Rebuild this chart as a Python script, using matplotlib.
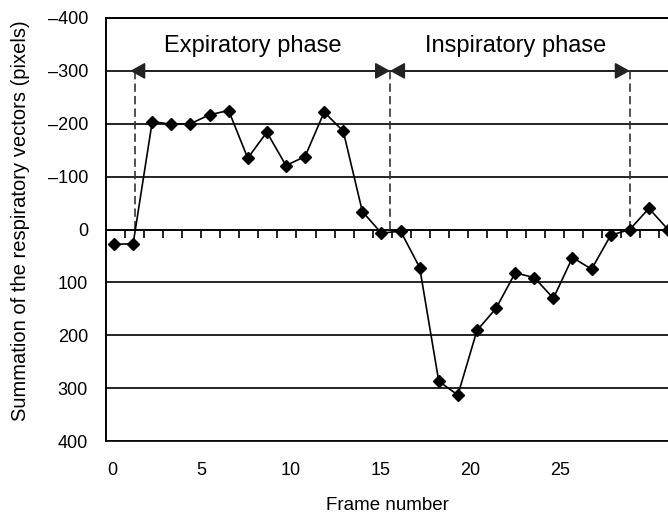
import numpy as np
import matplotlib
matplotlib.use('Agg')
import matplotlib.pyplot as plt

plt.rcParams['font.family'] = ['Liberation Sans', 'DejaVu Sans']

# Summation of respiratory vectors per frame (pixels)
frames = list(range(30))
values = [28, 27, -204, -199, -200, -217, -225, -135, -184, -121,
          -138, -222, -186, -34, 7, 3, 72, 287, 313, 191,
          149, 82, 91, 130, 53, 75, 11, 0, -40, 0]

# Phase boundaries (frame units) and labels
phase_bounds = [1.1, 14.45, 27.0]
arrow_spans = [(0.85, 14.45), (14.45, 27.0)]
phase_labels = ['Expiratory phase', 'Inspiratory phase']
phase_label_x = [7.25, 21.0]

yticks = list(range(-400, 401, 100))
ytick_labels = [str(v).replace('-', '\u2013') for v in yticks]
xlabels = [0, 5, 10, 15, 20, 25]

fig = plt.figure(figsize=(6.68, 5.16), dpi=100)
ax = fig.add_axes([106 / 668, 1 - 441 / 516, 562 / 668, 423 / 516])

# horizontal grid
ax.set_ylim(400, -400)
ax.set_yticks(yticks)
ax.set_yticklabels(ytick_labels)
ax.yaxis.grid(True, color='black', lw=1.2)
ax.set_axisbelow(True)
ax.tick_params(axis='y', length=0, pad=13, labelsize=13)

# category ticks hanging below the zero line
ax.set_xlim(-0.42, 29.0)
ax.set_xticks(np.arange(0.55, 29, 1))
ax.set_xticklabels([])
ax.tick_params(axis='x', direction='out', length=6, width=1.2)
ax.spines['bottom'].set_position(('data', 0))
ax.spines['bottom'].set_linewidth(1.2)
ax.spines['right'].set_visible(False)
ax.spines['top'].set_linewidth(1.2)
ax.spines['left'].set_linewidth(1.2)

ax.plot(frames, values, color='black', lw=1.2, marker='D', ms=6.5, zorder=5)

# phase markers
ax.vlines(phase_bounds, -300, 0, colors='#333333', lw=1.2,
          linestyles=(0, (5, 2.5)), zorder=3)
for a, b in arrow_spans:
    ax.annotate('', xy=(b, -300), xytext=(a, -300),
                arrowprops=dict(arrowstyle='<|-|>,head_length=9,head_width=5',
                                mutation_scale=1, color='#222222', lw=1.2,
                                shrinkA=0, shrinkB=0))
for lx, txt in zip(phase_label_x, phase_labels):
    ax.text(lx, -336, txt, ha='center', va='baseline', fontsize=17)

ax.set_ylabel('Summation of the respiratory vectors (pixels)', fontsize=14.5)
ax.yaxis.set_label_coords(-0.136, 0.522)

# bottom frame line and frame number labels
ax2 = ax.twiny()
ax2.set_xlim(-0.33, 31.03)
ax2.xaxis.set_ticks_position('bottom')
ax2.xaxis.set_label_position('bottom')
ax2.set_xticks(xlabels)
ax2.tick_params(axis='x', length=0, pad=15, labelsize=13)
ax2.spines['right'].set_visible(False)
for s in ['top', 'bottom', 'left']:
    ax2.spines[s].set_linewidth(1.2)
ax2.set_xlabel('Frame number', fontsize=13.5, labelpad=13)

fig.savefig('out.png', dpi=100)
